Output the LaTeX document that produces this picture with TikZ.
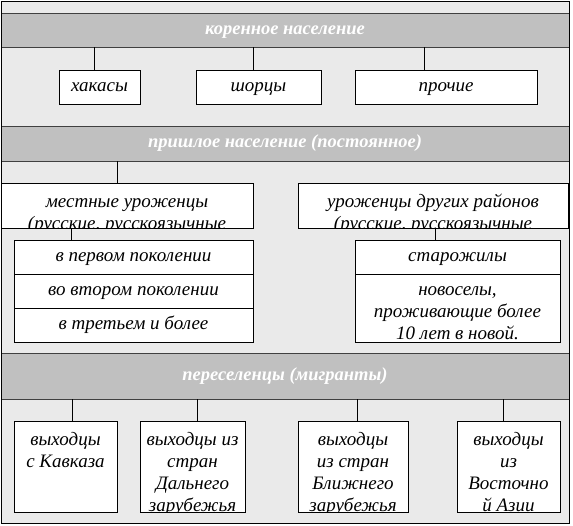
\documentclass[tikz,border=0pt]{standalone}
\usepackage{fontspec}
\setmainfont{Liberation Serif}
\usetikzlibrary{positioning}
\definecolor{bandgray}{HTML}{C0C0C0}
\definecolor{fieldgray}{HTML}{EAEAEA}
\definecolor{bandline}{HTML}{404040}
\newcommand\boxfont{\fontsize{19}{22}\selectfont\itshape}

\begin{document}
\begin{tikzpicture}[x=1pt, y=-1pt, node distance=0pt,
	band/.style={draw=bandline, fill=bandgray, minimum width=568, inner sep=0pt, outer sep=0pt, text height=12pt, text depth=4pt, text=white, font=\fontsize{18.5}{22}\selectfont\itshape\bfseries},
	box/.style={draw, fill=white, inner sep=0pt, outer sep=0pt, font=\boxfont},
	rowbox/.style={box, text height=12pt, text depth=4pt},
	cut/.style 2 args={path picture={\node[anchor=north, align=center, inner sep=0pt, draw=none, fill=none, minimum size=0pt, font=\boxfont] at ([yshift=13pt-#2]path picture bounding box.north) {\rule{0pt}{13pt}#1};}}]
	\useasboundingbox (0,0) rectangle (573,525);
	\draw[fill=fieldgray] (1,1) rectangle (569,523);
	\node[band, minimum height=34] (korennoe) at (285,30) {коренное население};
	\node[band, minimum height=35] (prishloe) at (285,143.5) {пришлое население (постоянное)};
	\node[band, minimum height=46] (pereselency) at (285,376) {переселенцы (мигранты)};
	\node[rowbox, minimum width=81, minimum height=34] (khakasy) at (99.5,87) {хакасы};
	\node[rowbox, minimum width=125, minimum height=34] (shorcy) at (258.5,87) {шорцы};
	\node[rowbox, minimum width=182, minimum height=34] (prochie) at (446,87) {прочие};
	\node[box, minimum width=252, minimum height=45, cut={местные уроженцы\\(русские, русскоязычные}{24pt}] (mestnye) at (127,205.5) {};
	\node[box, minimum width=270, minimum height=45, cut={уроженцы других районов\\(русские, русскоязычные}{24pt}] (urozhency) at (433,205.5) {};
	\node[rowbox, minimum width=239, minimum height=34] (first) at (133.5,257) {в первом поколении};
	\node[rowbox, minimum width=239, minimum height=34, below=of first] (second) {во втором поколении};
	\node[rowbox, minimum width=239, minimum height=34, below=of second] (third) {в третьем и более};
	\node[rowbox, minimum width=205, minimum height=34] (starozhily) at (457.5,257) {старожилы};
	\node[box, minimum width=205, minimum height=68, below=of starozhily, cut={новоселы,\\проживающие более\\10 лет в новой.}{21pt}] (novosely) {};
	\node[box, minimum width=103, minimum height=91, cut={выходцы\\с Кавказа}{24pt}] (kavkaz) at (65.5,466.5) {};
	\node[box, minimum width=105, minimum height=91, cut={выходцы из\\стран\\Дальнего\\зарубежья}{24pt}] (dalnee) at (192.5,466.5) {};
	\node[box, minimum width=110, minimum height=91, cut={выходцы\\из стран\\Ближнего\\зарубежья}{24pt}] (blizhnee) at (353,466.5) {};
	\node[box, minimum width=103, minimum height=91, cut={выходцы\\из\\Восточно\\й Азии}{24pt}] (aziya) at (508.5,466.5) {};
	\foreach \n/\dx/\up in {khakasy/-5.5/korennoe, shorcy/-5.5/korennoe, prochie/-22/korennoe,
		mestnye/-10/prishloe, first/-62.5/mestnye, starozhily/-22.5/urozhency,
		kavkaz/6.5/pereselency, dalnee/4.5/pereselency, blizhnee/4/pereselency, aziya/-5.5/pereselency}
		\draw ([xshift=\dx pt]\n.north) coordinate (top) -- (top |- \up.south);
	\draw (1,1) rectangle (569,523);
\end{tikzpicture}
\end{document}
